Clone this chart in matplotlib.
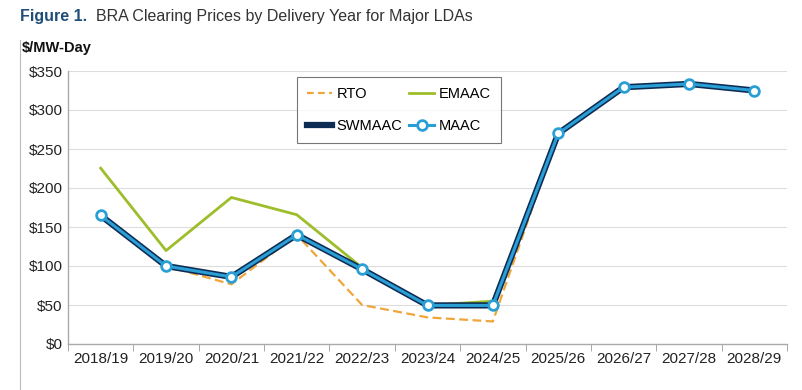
import matplotlib
matplotlib.use("Agg")
import matplotlib.pyplot as plt
from matplotlib.lines import Line2D

plt.rcParams['font.family'] = ['Liberation Sans', 'DejaVu Sans']

years = ["2018/19", "2019/20", "2020/21", "2021/22", "2022/23", "2023/24",
         "2024/25", "2025/26", "2026/27", "2027/28", "2028/29"]
rto = [164.77, 100.0, 76.53, 140.0, 50.0, 34.13, 28.92, 269.92, 329.17, 333.44, 325.0]
emaac = [225.42, 119.77, 187.87, 165.73, 97.86, 49.49, 54.95, 269.92, 329.17, 333.44, 325.0]
swmaac = [164.77, 100.0, 86.04, 140.0, 95.79, 49.49, 49.49, 269.92, 329.17, 333.44, 325.0]
maac = [164.77, 100.0, 86.04, 140.0, 95.79, 49.49, 49.49, 269.92, 329.17, 333.44, 325.0]
yticks = [0, 50, 100, 150, 200, 250, 300, 350]

c_rto = "#F0A53A"
c_emaac = "#9DBE2A"
c_sw = "#0D2C54"
c_maac = "#2A9FD6"

fig = plt.figure(figsize=(8.03, 3.90), dpi=100)
ax = fig.add_axes([68/803, 1-344/390, (787-68)/803, (344-71)/390])
x = list(range(len(years)))

ax.plot(x, rto, color=c_rto, lw=1.6, ls=(0, (4, 2)), zorder=3)
ax.plot(x, emaac, color=c_emaac, lw=2.0, zorder=2)
ax.plot(x, swmaac, color=c_sw, lw=4.5, zorder=4, solid_capstyle='round')
ax.plot(x, maac, color=c_maac, lw=2.2, zorder=5, marker='o', ms=7,
        mfc='white', mec=c_maac, mew=2.0)

ax.set_xlim(-0.5, len(years) - 0.5)
ax.set_ylim(0, 350)
ax.set_yticks(yticks)
ax.set_yticklabels([f"${v}" for v in yticks], fontsize=11, color="#222222")
ax.set_xticks(x)
ax.set_xticklabels(years, fontsize=11, color="#222222")
ax.set_xticks([i - 0.5 for i in range(len(years) + 1)], minor=True)
ax.tick_params(axis='x', which='major', length=0, pad=6)
ax.tick_params(axis='x', which='minor', length=5, color="#999999")
ax.tick_params(axis='y', length=0, pad=4)
ax.grid(axis='y', color="#DDDDDD", lw=0.8)
ax.set_axisbelow(True)
for s in ['top', 'right']:
    ax.spines[s].set_visible(False)
for s in ['left', 'bottom']:
    ax.spines[s].set_color("#AAAAAA")
    ax.spines[s].set_linewidth(1.0)

handles = [
    Line2D([], [], color=c_rto, lw=1.6, ls=(0, (3, 2))),
    Line2D([], [], color=c_sw, lw=4.5),
    Line2D([], [], color=c_emaac, lw=2.0),
    Line2D([], [], color=c_maac, lw=2.2, marker='o', ms=7, mfc='white', mec=c_maac, mew=2.0),
]
labels = ["RTO", "SWMAAC", "EMAAC", "MAAC"]
leg = fig.legend(handles, labels, ncol=2, loc='upper left',
                 bbox_to_anchor=(297/803, 1-77/390), borderaxespad=0,
                 fontsize=10.5, frameon=True, fancybox=False, edgecolor="#555555",
                 handlelength=1.7, columnspacing=0.5, labelspacing=1.2,
                 borderpad=0.7, handletextpad=0.3)
leg.get_frame().set_linewidth(0.8)

fig.text(20/803, 1-16/390, "Figure 1.", fontsize=11.5, fontweight='bold',
         color="#1F4E79", va='center', ha='left')
fig.text(96/803, 1-16/390, "BRA Clearing Prices by Delivery Year for Major LDAs",
         fontsize=11.5, color="#333333", va='center', ha='left')
fig.text(22/803, 1-48/390, "$/MW-Day", fontsize=10.5, fontweight='bold',
         color="#111111", va='center', ha='left')
fig.add_artist(Line2D([20/803, 20/803], [1-40/390, 0.0], color="#BBBBBB", lw=0.8))

fig.savefig("out.png", dpi=100)
